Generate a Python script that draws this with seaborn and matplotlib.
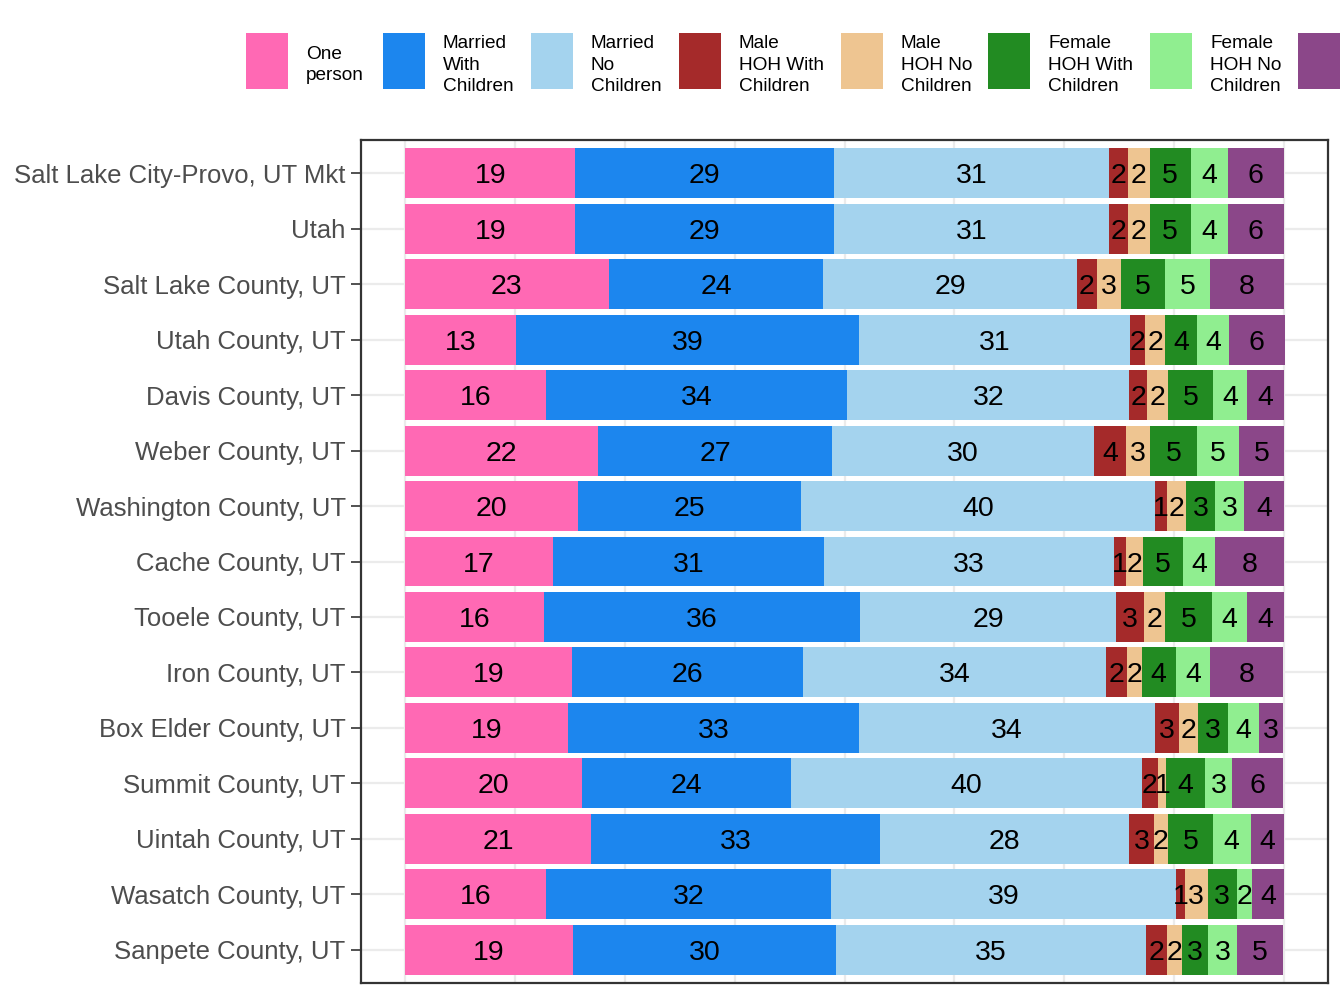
import numpy as np
import pandas as pd
import matplotlib
matplotlib.use("Agg")
import matplotlib.pyplot as plt
from matplotlib.patches import Rectangle
import seaborn as sns

regions = ["Salt Lake City-Provo, UT Mkt", "Utah", "Salt Lake County, UT", "Utah County, UT",
           "Davis County, UT", "Weber County, UT", "Washington County, UT", "Cache County, UT",
           "Tooele County, UT", "Iron County, UT", "Box Elder County, UT", "Summit County, UT",
           "Uintah County, UT", "Wasatch County, UT", "Sanpete County, UT"]

series_names = ["One\nperson", "Married\nWith\nChildren", "Married\nNo\nChildren",
                "Male\nHOH With\nChildren", "Male\nHOH No\nChildren", "Female\nHOH With\nChildren",
                "Female\nHOH No\nChildren", "Other"]

one_person     = [19.4, 19.4, 23.2, 12.6, 16.1, 22.0, 19.7, 16.8, 15.8, 19.0, 18.6, 20.1, 21.2, 16.1, 19.1]
married_kids   = [29.4, 29.4, 24.4, 39.1, 34.2, 26.6, 25.4, 30.9, 36.0, 26.3, 33.1, 23.8, 32.8, 32.4, 29.9]
married_nokids = [31.3, 31.3, 28.8, 30.8, 32.1, 29.8, 40.2, 32.9, 29.1, 34.4, 33.6, 39.9, 28.4, 39.2, 35.3]
male_kids      = [2.2, 2.2, 2.3, 1.7, 2.0, 3.6, 1.4, 1.45, 3.2, 2.4, 2.8, 1.9, 2.8, 1.0, 2.4]
male_nokids    = [2.4, 2.4, 2.7, 2.3, 2.4, 2.7, 2.2, 1.9, 2.4, 1.7, 2.1, 0.9, 1.6, 2.6, 1.7]
female_kids    = [4.7, 4.7, 5.1, 3.6, 5.1, 5.45, 3.3, 4.6, 5.3, 3.9, 3.4, 4.4, 5.1, 3.3, 3.0]
female_nokids  = [4.2, 4.2, 5.1, 3.6, 3.9, 4.7, 3.3, 3.6, 4.0, 3.9, 3.6, 3.1, 4.3, 1.8, 3.2]
other          = [6.4, 6.4, 8.4, 6.4, 4.2, 5.2, 4.45, 7.8, 4.2, 8.3, 2.7, 5.8, 3.8, 3.6, 5.3]

colors = ["#FF69B4", "#1C86EE", "#A4D3EE", "#A52A2A", "#EEC591", "#228B22", "#90EE90", "#8B4789"]

series_values = [one_person, married_kids, married_nokids, male_kids, male_nokids,
                 female_kids, female_nokids, other]

sns.set_theme(style="white")
plt.rcParams["font.family"] = ["Liberation Sans", "DejaVu Sans"]

W, H = 1344, 1008
fig = plt.figure(figsize=(W / 100, H / 100), dpi=100)
ax = fig.add_axes([361 / W, 1 - 983 / H, (1328 - 361) / W, (983 - 140) / H])

left = np.zeros(len(regions))
for name, vals, col in zip(series_names, series_values, colors):
    df = pd.DataFrame({"region": regions, "pct": vals})
    sns.barplot(data=df, x="pct", y="region", order=regions, orient="h", color=col,
                width=0.9, errorbar=None, left=left, linewidth=0, saturation=1, ax=ax, zorder=2)
    cont = ax.containers[-1]
    txts = ax.bar_label(cont, labels=["{:.0f}".format(v) for v in vals], label_type="center",
                        fontsize=20.5, color="black", zorder=3)
    for t in txts:
        t.set_va("center_baseline")
    left = left + np.array(vals)

ax.set_xlim(-5, 105)
ax.set_ylim(len(regions) - 0.4, -0.6)
ax.set_xticks(np.arange(0, 101, 12.5))
ax.set_xticklabels([])
ax.tick_params(axis="x", length=0)
ax.tick_params(axis="y", length=7, width=1.2, color="#333333", labelsize=18.5,
               labelcolor="#4D4D4D", pad=4, left=True)
ax.grid(True, color="#EBEBEB", linewidth=1.6, zorder=0)
ax.set_axisbelow(True)
ax.set_xlabel("")
ax.set_ylabel("")
for s in ax.spines.values():
    s.set_visible(True)
    s.set_color("#333333")
    s.set_linewidth(1.6)

# legend (top, horizontal, runs past the right edge like the reference)
key_x = [246, 383, 531, 679, 841, 988, 1150, 1298]
key_w, key_top, key_h = 42, 33, 56
for kx, col, name in zip(key_x, colors, series_names):
    fig.add_artist(Rectangle((kx / W, 1 - (key_top + key_h) / H), key_w / W, key_h / H,
                             transform=fig.transFigure, facecolor=col, edgecolor="none"))
    fig.text((kx + 60) / W, 1 - 65 / H, name, ha="left", va="center", fontsize=13.7,
             color="black", linespacing=1.32)

fig.savefig("out.png", dpi=100)
